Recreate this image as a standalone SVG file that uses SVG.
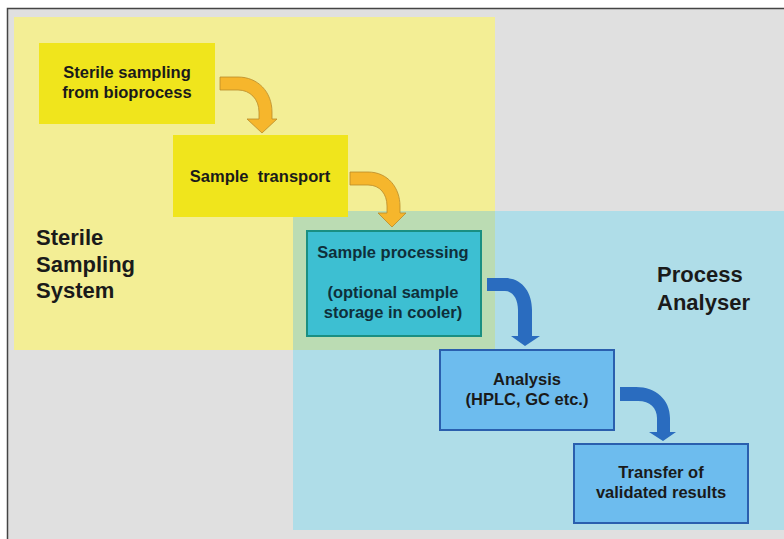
<svg xmlns="http://www.w3.org/2000/svg" width="784" height="539" viewBox="0 0 784 539">
<style>
text{font-family:"Liberation Sans",Arial,sans-serif;font-weight:bold;fill:#1a1a1a;text-anchor:middle}
.box{font-size:16.5px}
.region{font-size:22px;text-anchor:start}
.ybox{fill:#f0e51c}
.tbox{fill:#3dbfd2;stroke:#1a8f82;stroke-width:2}
.bbox{fill:#6dbcee;stroke:#2a5fae;stroke-width:2}
.yarrow{fill:#f6b62c;stroke:#b98a2a;stroke-width:0.8}
.barrow{fill:#2a6cbf}
</style>
<rect x="0" y="0" width="784" height="539" fill="#ffffff"/>
<rect x="7" y="8" width="777" height="531" fill="#e0e0e0"/>
<path d="M7.5,539 L7.5,8.5 L784,8.5" fill="none" stroke="#444" stroke-width="1.5"/>
<g id="region-sterile">
<rect x="14" y="17" width="481" height="333" fill="#f3ee95"/>
<text class="region" x="36" y="245">Sterile</text>
<text class="region" x="36" y="272">Sampling</text>
<text class="region" x="36" y="298">System</text>
</g>
<g id="region-analyser">
<rect x="293" y="211" width="491" height="319" fill="#afdde8"/>
<rect x="293" y="211" width="202" height="139" fill="#bbdcb3"/>
<text class="region" x="657" y="282">Process</text>
<text class="region" x="657" y="310">Analyser</text>
</g>
<g id="connectors">
<path class="yarrow" d="M220,77 L238,77 C258,77 272,92 272,112 L272,119 L277,119 L262,133 L247,119 L259,119 L259,112 C259,99 250,90 238,90 L220,90 Z"/>
<path class="yarrow" d="M350,172 L368,172 C388,172 400,188 400,206 L400,213 L406,213 L392,227 L378,213 L387,213 L387,206 C387,194 380,185 368,185 L350,185 Z"/>
<path class="barrow" d="M487,278 L505,278 C522,278 532,292 532,310 L532,336 L540,336 L525,346 L511,336 L518,336 L518,310 C518,299 513,291 505,291 L487,291 Z"/>
<path class="barrow" d="M620,387 L636,387 C656,387 670,400 670,418 L670,432 L676,432 L663,441 L649,432 L657,432 L657,418 C657,408 650,401 638,401 L620,401 Z"/>
</g>
<g id="node-sampling">
<rect class="ybox" x="39" y="43" width="176" height="81"/>
<text class="box" x="127" y="78">Sterile sampling</text>
<text class="box" x="127" y="98">from bioprocess</text>
</g>
<g id="node-transport">
<rect class="ybox" x="173" y="135" width="175" height="82"/>
<text class="box" x="260" y="182" xml:space="preserve">Sample  transport</text>
</g>
<g id="node-processing">
<rect class="tbox" x="307" y="231" width="174" height="105"/>
<text class="box" x="393" y="258" style="fill:#0f2f3a">Sample processing</text>
<text class="box" x="393" y="298" style="fill:#0f2f3a">(optional sample</text>
<text class="box" x="393" y="318" style="fill:#0f2f3a">storage in cooler)</text>
</g>
<g id="node-analysis">
<rect class="bbox" x="440" y="350" width="174" height="80"/>
<text class="box" x="527" y="385">Analysis</text>
<text class="box" x="527" y="405">(HPLC, GC etc.)</text>
</g>
<g id="node-transfer">
<rect class="bbox" x="574" y="444" width="174" height="79"/>
<text class="box" x="661" y="478">Transfer of</text>
<text class="box" x="661" y="498">validated results</text>
</g>
</svg>
